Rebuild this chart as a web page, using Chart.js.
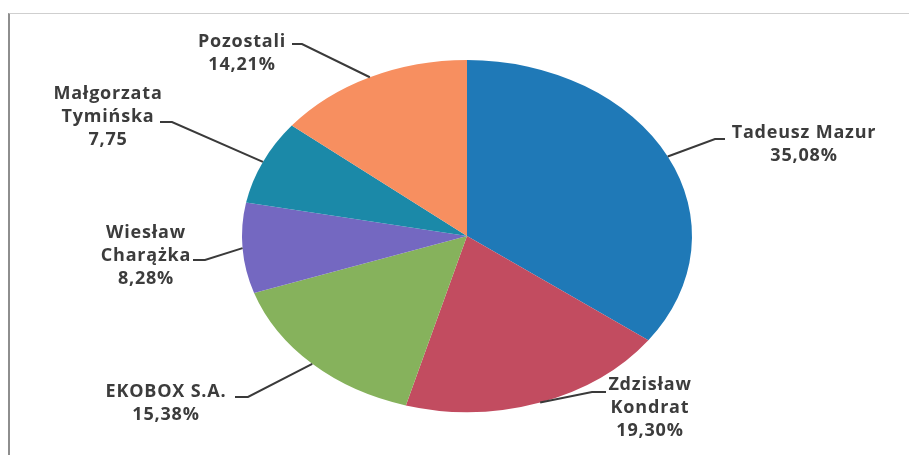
<!DOCTYPE html>
<html>
<head>
<meta charset="utf-8">
<script src="https://cdn.jsdelivr.net/npm/chart.js@4/dist/chart.umd.min.js"></script>
<style>
    body { margin: 0; background: #fff; }
    .wrap { position: relative; width: 909px; height: 455px; }
    .frame { position: absolute; left: 8px; top: 13px; right: 0; bottom: 0;
             border-left: 2px solid #8e8e8e; border-top: 1px solid #cfcfcf; }
    canvas { position: absolute; left: 0; top: 0; }
</style>
</head>
<body>
<div class="wrap">
    <div class="frame"></div>
    <canvas id="pieChart" width="909" height="455"></canvas>
</div>
<script>
// data
const categories = ['Tadeusz Mazur', 'Zdzisław Kondrat', 'EKOBOX S.A.', 'Wiesław Charążka', 'Małgorzata Tymińska', 'Pozostali'];
const values = [35.08, 19.30, 15.38, 8.28, 7.75, 14.21];
const valueLabels = ['35,08%', '19,30%', '15,38%', '8,28%', '7,75', '14,21%'];
const colors = ['#1f79b7', '#c24c60', '#86b25c', '#7468c1', '#1b89a8', '#f78f60'];

// label layout: text centre, first line y, leader elbow and text-side end
const labelLayout = [
    { x: 804, y: 133, lines: 1, elbow: [715, 139], end: [725, 139] },
    { x: 650, y: 385, lines: 2, elbow: [592, 392], end: [606, 392] },
    { x: 166, y: 392, lines: 1, elbow: [248, 397], end: [235, 397] },
    { x: 146, y: 233, lines: 2, elbow: [205, 260], end: [193, 260] },
    { x: 108, y: 94,  lines: 2, elbow: [172, 122], end: [160, 122] },
    { x: 242, y: 42,  lines: 1, elbow: [302, 44],  end: [292, 44] }
];

const lineGap = 23;
const stretchX = 225 / 176; // pie is an ellipse in the original

const ellipsePlugin = {
    id: 'ellipse',
    beforeDatasetsDraw(chart) {
        const arc = chart.getDatasetMeta(0).data[0];
        const ctx = chart.ctx;
        ctx.save();
        ctx.translate(arc.x, 0);
        ctx.scale(stretchX, 1);
        ctx.translate(-arc.x, 0);
    },
    afterDatasetsDraw(chart) {
        chart.ctx.restore();
    }
};

const labelPlugin = {
    id: 'calloutLabels',
    afterDraw(chart) {
        const ctx = chart.ctx;
        const meta = chart.getDatasetMeta(0);
        ctx.save();
        ctx.strokeStyle = '#3a3a3a';
        ctx.lineWidth = 2;
        ctx.fillStyle = '#3c3c3c';
        ctx.font = 'bold 18px "Open Sans"';
        ctx.letterSpacing = '0.8px';
        ctx.textAlign = 'center';
        ctx.textBaseline = 'middle';

        meta.data.forEach((arc, i) => {
            const lay = labelLayout[i];
            const mid = (arc.startAngle + arc.endAngle) / 2;
            const ax = arc.x + Math.cos(mid) * arc.outerRadius * stretchX;
            const ay = arc.y + Math.sin(mid) * arc.outerRadius;

            ctx.beginPath();
            ctx.moveTo(ax, ay);
            ctx.lineTo(lay.elbow[0], lay.elbow[1]);
            ctx.lineTo(lay.end[0], lay.end[1]);
            ctx.stroke();

            const words = categories[i].split(' ');
            const nameLines = lay.lines === 1 ? [categories[i]] : [words[0], words.slice(1).join(' ')];
            nameLines.push(valueLabels[i]);
            nameLines.forEach((t, k) => {
                ctx.fillText(t, lay.x, lay.y + k * lineGap);
            });
        });
        ctx.restore();
    }
};

new Chart(document.getElementById('pieChart'), {
    type: 'pie',
    data: {
        labels: categories,
        datasets: [{
            data: values,
            backgroundColor: colors,
            borderWidth: 0,
            clip: false
        }]
    },
    options: {
        responsive: false,
        animation: false,
        layout: {
            padding: { left: 291, right: 266, top: 60, bottom: 43 }
        },
        plugins: {
            legend: { display: false },
            tooltip: { enabled: false }
        }
    },
    plugins: [ellipsePlugin, labelPlugin]
});
</script>
</body>
</html>
